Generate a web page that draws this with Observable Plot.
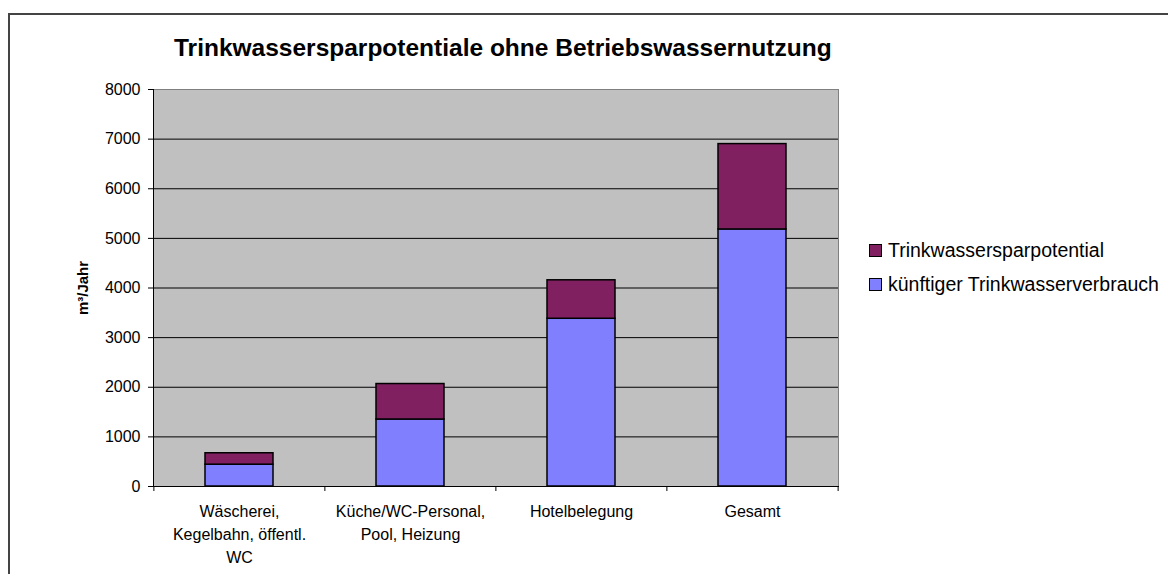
<!DOCTYPE html>
<html>
<head>
<meta charset="utf-8">
<script src="https://cdn.jsdelivr.net/npm/d3@7"></script>
<script src="https://cdn.jsdelivr.net/npm/@observablehq/plot@0.6"></script>
<style>
  body { margin: 0; background: #fff; font-family: "Liberation Sans", Arial, sans-serif; }
  #wrap { position: relative; width: 1168px; height: 574px; overflow: hidden; background: #fff; }
  #border { position: absolute; left: 8px; top: 13px; width: 1300px; height: 700px;
            border-left: 2px solid #444; border-top: 2px solid #444; box-sizing: border-box; }
  #chart { position: absolute; left: 0; top: 0; }
  #title { position: absolute; left: 174px; top: 35px; font-size: 24.5px; line-height: 25px;
           font-weight: bold; white-space: nowrap; color: #000; }
  .leg { position: absolute; left: 869px; height: 14px; display: flex; align-items: center;
         white-space: nowrap; font-size: 19.5px; color: #000; }
  .sw { width: 13px; height: 13px; box-sizing: border-box; border: 1.5px solid #000; margin-right: 6px; }
</style>
</head>
<body>
<div id="wrap">
  <div id="border"></div>
  <div id="chart"></div>
  <div id="title"></div>
  <div id="legend"></div>
</div>
<script>
const chartTitle = "Trinkwassersparpotentiale ohne Betriebswassernutzung";
const yLabel = "m³/Jahr";
const categories = [
  "Wäscherei,\nKegelbahn, öffentl.\nWC",
  "Küche/WC-Personal,\nPool, Heizung",
  "Hotelbelegung",
  "Gesamt"
];
const seriesNames = ["künftiger Trinkwasserverbrauch", "Trinkwassersparpotential"];
const seriesColors = ["#8080FF", "#802060"];
const consumption = [440, 1350, 3380, 5180];
const savings = [230, 715, 775, 1720];
const yTicks = [0, 1000, 2000, 3000, 4000, 5000, 6000, 7000, 8000];
const legendOrder = ["Trinkwassersparpotential", "künftiger Trinkwasserverbrauch"];

const rows = [];
categories.forEach((c, i) => {
  rows.push({cat: c, series: seriesNames[0], value: consumption[i]});
  rows.push({cat: c, series: seriesNames[1], value: savings[i]});
});

const W = 1168, H = 574, mL = 153, mR = 330, mT = 89, mB = 88;
const pIn = 0.6, pOut = 0.3;
const step = (W - mL - mR) / (categories.length - pIn + 2 * pOut);
const plotH = H - mT - mB;

const chart = Plot.plot({
  width: W, height: H,
  marginLeft: mL, marginRight: mR, marginTop: mT, marginBottom: mB,
  style: {fontFamily: "'Liberation Sans', Arial, sans-serif", fontSize: "16px", color: "#000", background: "transparent"},
  x: {domain: categories, paddingInner: pIn, paddingOuter: pOut, axis: null},
  y: {domain: [0, 8000], axis: null},
  color: {domain: seriesNames, range: seriesColors},
  marks: [
    Plot.frame({fill: "#C0C0C0", stroke: "#808080"}),
    Plot.gridY({ticks: yTicks.slice(1, -1), stroke: "#000", strokeOpacity: 1, strokeWidth: 1}),
    Plot.barY(rows, {x: "cat", y: "value", fill: "series", stroke: "#000", strokeWidth: 1.5}),
    Plot.frame({anchor: "left", stroke: "#000"}),
    Plot.frame({anchor: "bottom", stroke: "#000"}),
    Plot.axisY({ticks: yTicks, tickFormat: d => String(d), tickSize: 5, tickPadding: 8, fontSize: 16, label: null, stroke: "#000"}),
    Plot.ruleX(categories, {x: d => d, dx: -step / 2, insetTop: plotH, insetBottom: -5, stroke: "#000"}),
    Plot.ruleX(categories.slice(-1), {x: d => d, dx: step / 2, insetTop: plotH, insetBottom: -5, stroke: "#000"}),
    Plot.text(categories, {x: d => d, frameAnchor: "bottom", lineAnchor: "top", dy: 14, lineHeight: 1.45, fontSize: 16, text: d => d, fill: "#000"}),
    Plot.text([yLabel], {frameAnchor: "left", textAnchor: "middle", rotate: -90, dx: -70, text: d => d, fontSize: 15, fontWeight: "bold", fill: "#000"})
  ]
});
document.getElementById("chart").appendChild(chart);
document.getElementById("title").textContent = chartTitle;

const legend = document.getElementById("legend");
const legTops = [243, 277];
legendOrder.forEach((name, i) => {
  const row = document.createElement("div");
  row.className = "leg";
  row.style.top = legTops[i] + "px";
  const sw = document.createElement("div");
  sw.className = "sw";
  sw.style.background = seriesColors[seriesNames.indexOf(name)];
  const t = document.createElement("span");
  t.textContent = name;
  row.appendChild(sw);
  row.appendChild(t);
  legend.appendChild(row);
});
</script>
</body>
</html>
